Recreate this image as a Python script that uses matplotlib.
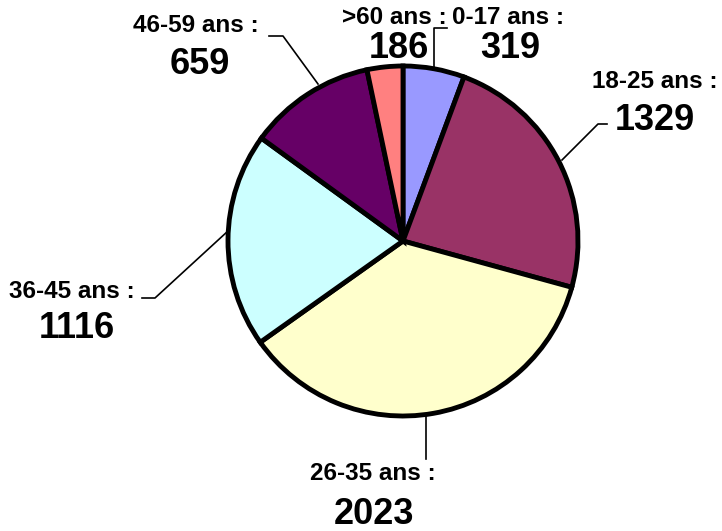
import matplotlib.pyplot as plt

# Age groups and counts
groups = ['0-17 ans :', '18-25 ans :', '26-35 ans :', '36-45 ans :', '46-59 ans :', '>60 ans :']
counts = [319, 1329, 2023, 1116, 659, 186]
colors = ['#9999FF', '#993366', '#FFFFCC', '#CCFFFF', '#660066', '#FF8080']

# Label placement (pixel coords, y down): caption centre, value centre, leader path
label_pos = [(508, 17), (655, 82), (373, 473), (72, 291), (196, 25), (394, 17)]
value_pos = [(510, 49), (655, 120), (374, 514), (77, 328), (200, 64), (399, 49)]
leaders = [
    [(434, 68), (434, 28), (447, 28)],
    [(562, 160), (598, 124), (607, 124)],
    [(426, 416), (426, 459)],
    [(142, 298), (155, 298), (228, 231)],
    [(269, 36), (283, 36), (318, 84)],
    None,
]

plt.rcParams['font.family'] = 'Liberation Sans'

fig = plt.figure(figsize=(7.22, 5.31), dpi=100)
ax = fig.add_axes([0, 0, 1, 1])

ax.pie(counts, colors=colors, startangle=-90, counterclock=True,
       center=(403, 241), radius=175, frame=True,
       wedgeprops=dict(edgecolor='black', linewidth=3.5))
ax.set_xlim(0, 722)
ax.set_ylim(531, 0)
ax.axis('off')

for g, c, lp, vp, path in zip(groups, counts, label_pos, value_pos, leaders):
    ax.text(lp[0], lp[1], g, ha='center', va='center', fontsize=17.5, fontweight='bold')
    ax.text(vp[0], vp[1], str(c), ha='center', va='center', fontsize=26, fontweight='bold')
    if path:
        xs, ys = zip(*path)
        ax.plot(xs, ys, color='black', linewidth=1.2)

fig.savefig('out.png', dpi=100)
